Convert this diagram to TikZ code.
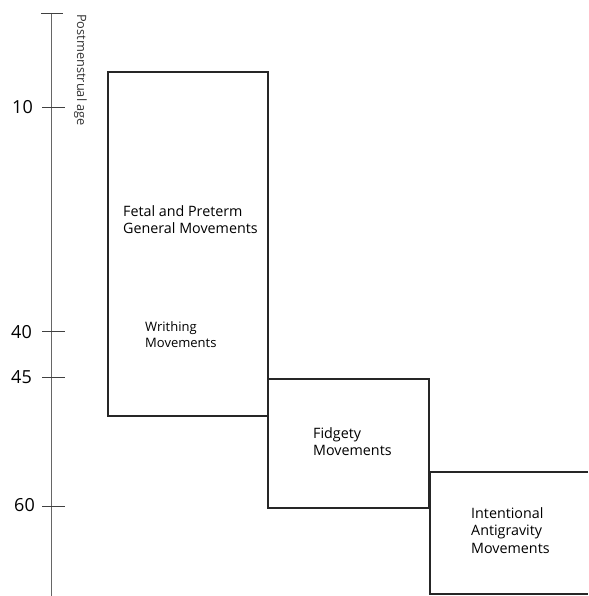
\documentclass[tikz,border=0pt]{standalone}
\usepackage{fontspec}
\setmainfont{Open Sans}
\begin{document}
\begin{tikzpicture}[x=1pt,y=-1pt,
  boxline/.style={draw=black!85, line width=1.1pt},
  axisline/.style={draw=black!60, line width=0.9pt},
  tickline/.style={draw=black!75, line width=0.8pt},
  ticklabel/.style={anchor=east, font=\fontsize{18}{18}\selectfont, inner sep=0pt},
  boxtext/.style={anchor=north west, align=left, inner sep=0pt, font=\fontsize{14.3}{17.5}\selectfont},
  smalltext/.style={anchor=north west, align=left, inner sep=0pt, font=\fontsize{13}{16}\selectfont}]
\useasboundingbox (0,0) rectangle (588,596);
% axis
\coordinate (atop) at (51,13);
\coordinate (abot) at (51,596);
\draw[axisline] (atop) -- (abot);
\coordinate (t0a) at (41,13); \coordinate (t0b) at (63,13);
\draw[tickline] (t0a) -- (t0b);
\coordinate (t1a) at (42,107); \coordinate (t1b) at (65,107);
\draw[tickline] (t1a) -- (t1b);
\coordinate (t2a) at (42,331); \coordinate (t2b) at (65,331);
\draw[tickline] (t2a) -- (t2b);
\coordinate (t3a) at (42,377); \coordinate (t3b) at (65,377);
\draw[tickline] (t3a) -- (t3b);
\coordinate (t4a) at (42,506); \coordinate (t4b) at (65,506);
\draw[tickline] (t4a) -- (t4b);
\node[ticklabel] (l10) at (33,107) {10};
\node[ticklabel] (l40) at (32,332) {40};
\node[ticklabel] (l45) at (32,377) {45};
\node[ticklabel] (l60) at (35,505) {60};
\node[rotate=-90, anchor=north west, inner sep=0pt, font=\fontsize{12.8}{12.8}\selectfont, text=black!80] (alab) at (87,14) {Postmenstrual age};
% boxes
\draw[boxline] (108,72) rectangle (268,416);
\draw[boxline] (268,379) rectangle (429,508);
\coordinate (b3a) at (588,472); \coordinate (b3b) at (430,472);
\coordinate (b3c) at (430,594); \coordinate (b3d) at (588,594);
\draw[boxline] (b3a) -- (b3b) -- (b3c) -- (b3d);
% texts
\node[boxtext] (fetal) at (123,205) {Fetal and Preterm\\General Movements};
\node[smalltext] (wri) at (145,321) {Writhing\\Movements};
\node[boxtext] (fid) at (313,427) {Fidgety\\Movements};
\node[boxtext] (int) at (471,507) {Intentional\\Antigravity\\Movements};
\end{tikzpicture}
\end{document}
